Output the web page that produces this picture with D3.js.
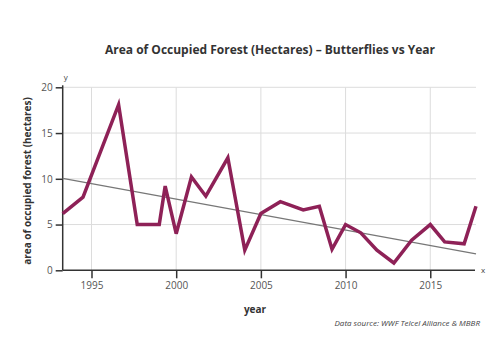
<!DOCTYPE html>
<html>
<head>
<meta charset="utf-8">
<script src="https://cdn.jsdelivr.net/npm/d3@7"></script>
<style>
  body { margin: 0; background: #fff; }
  text { font-family: "Open Sans", "DejaVu Sans", sans-serif; }
</style>
</head>
<body>
<svg width="499" height="342"></svg>
<script>
// values
var years = [1993.3, 1994.5, 1996.6, 1997.7, 1999.0, 1999.35, 2000.0, 2000.9, 2001.75, 2003.05,
             2004.05, 2005.0, 2006.15, 2007.5, 2008.45, 2009.2, 2010.0, 2010.9, 2011.85, 2012.85,
             2013.9, 2015.0, 2015.85, 2017.0, 2017.7];
var area = [6.2, 8.0, 18.1, 5.0, 5.0, 9.2, 4.0, 10.2, 8.1, 12.3,
            2.2, 6.2, 7.5, 6.6, 7.0, 2.3, 5.0, 4.1, 2.2, 0.8,
            3.3, 5.0, 3.1, 2.9, 7.0];
var trendYears = [1993.3, 2017.7];
var trendVals = [10.05, 1.8];
var xTicks = [1995, 2000, 2005, 2010, 2015];
var yTicks = [0, 5, 10, 15, 20];

var svg = d3.select("svg");
var mLeft = 62.7, mRight = 476, mTop = 87.3, mBottom = 270.3;

var x = d3.scaleLinear().domain([1993.3, 2017.7]).range([mLeft, mRight]);
var y = d3.scaleLinear().domain([0, 20]).range([mBottom, mTop]);

// grid
var grid = svg.append("g").attr("stroke", "#dcdcdc").attr("stroke-width", 1);
grid.selectAll("line.v").data(xTicks).enter().append("line")
	.attr("x1", function(d) { return x(d); }).attr("x2", function(d) { return x(d); })
	.attr("y1", mTop).attr("y2", mBottom);
grid.selectAll("line.h").data(yTicks.slice(1)).enter().append("line")
	.attr("x1", mLeft).attr("x2", mRight)
	.attr("y1", function(d) { return y(d); }).attr("y2", function(d) { return y(d); });

// axes
var xAxis = svg.append("g")
	.attr("transform", "translate(0," + mBottom + ")")
	.call(d3.axisBottom(x).tickValues(xTicks).tickFormat(d3.format("d")).tickSizeOuter(0).tickSize(8));
var yAxis = svg.append("g")
	.attr("transform", "translate(" + mLeft + ",0)")
	.call(d3.axisLeft(y).tickValues(yTicks).tickSizeOuter(0).tickSize(7).tickPadding(3));
[xAxis, yAxis].forEach(function(a) {
	a.select(".domain").attr("stroke", "#333").attr("stroke-width", 1.5);
	a.selectAll(".tick line").attr("stroke", "#333").attr("stroke-width", 1.5);
	a.selectAll(".tick text").attr("fill", "#555").style("font-size", "10px");
});
xAxis.select(".domain").attr("d", "M" + mLeft + ",0H" + (mRight - 1));
xAxis.selectAll(".tick text").attr("y", 12).attr("dy", "0.71em");
yAxis.select(".domain").attr("d", "M0," + mBottom + "V" + (mTop - 2));

svg.append("text").attr("x", mLeft + 1).attr("y", mTop - 7).attr("fill", "#444")
	.style("font-size", "8px").text("y");
svg.append("text").attr("x", mRight + 5).attr("y", mBottom + 3).attr("fill", "#444")
	.style("font-size", "8px").text("x");

// trend line
svg.append("path")
	.datum(d3.zip(trendYears, trendVals))
	.attr("fill", "none").attr("stroke", "#777").attr("stroke-width", 1.2)
	.attr("d", d3.line().x(function(d) { return x(d[0]); }).y(function(d) { return y(d[1]); }));

// data line
svg.append("path")
	.datum(d3.zip(years, area))
	.attr("fill", "none").attr("stroke", "#8e2157").attr("stroke-width", 3.5)
	.attr("stroke-linejoin", "miter")
	.attr("d", d3.line().x(function(d) { return x(d[0]); }).y(function(d) { return y(d[1]); }));

// labels
svg.append("text").attr("x", 270).attr("y", 54).attr("text-anchor", "middle")
	.style("font-size", "12px").style("font-weight", "bold").attr("fill", "#333")
	.text("Area of Occupied Forest (Hectares) \u2013 Butterflies vs Year");
svg.append("text").attr("transform", "translate(31,181) rotate(-90)").attr("text-anchor", "middle")
	.style("font-size", "10px").style("font-weight", "bold").attr("fill", "#333")
	.text("area of occupied forest (hectares)");
svg.append("text").attr("x", 255).attr("y", 313).attr("text-anchor", "middle")
	.style("font-size", "10px").style("font-weight", "bold").attr("fill", "#333")
	.text("year");
svg.append("text").attr("x", 480).attr("y", 326).attr("text-anchor", "end")
	.style("font-size", "8px").style("font-style", "italic").attr("fill", "#444")
	.text("Data source: WWF Telcel Alliance & MBBR");
</script>
</body>
</html>
